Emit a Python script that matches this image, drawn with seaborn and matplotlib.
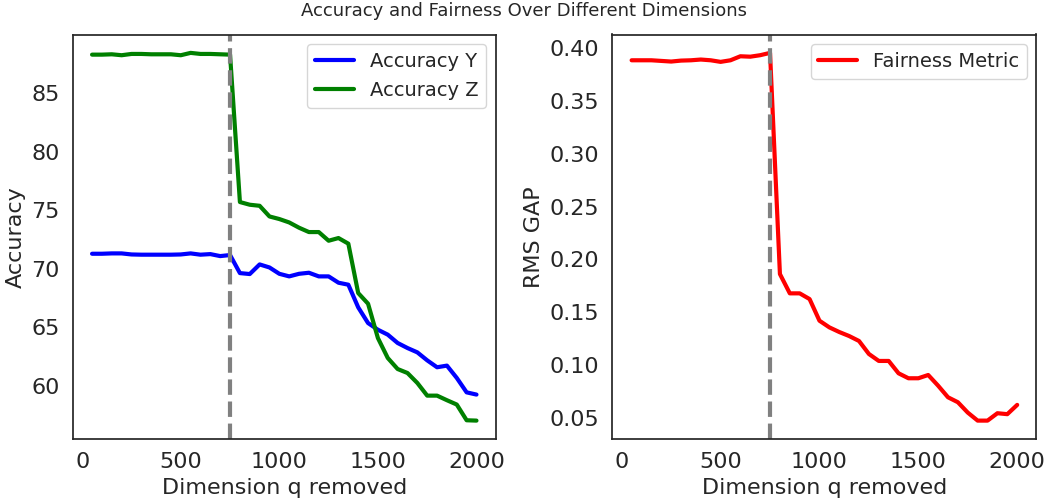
import pandas as pd
import matplotlib
matplotlib.use("Agg")
import matplotlib.pyplot as plt
import seaborn as sns

dims = list(range(50, 2001, 50))

acc_y = [71.28, 71.28, 71.31, 71.31, 71.22, 71.20, 71.20, 71.20, 71.20, 71.22,
         71.31, 71.20, 71.25, 71.08, 71.17, 69.63, 69.55, 70.37, 70.11, 69.57,
         69.35, 69.57, 69.66, 69.35, 69.35, 68.81, 68.64, 66.71, 65.37, 64.80,
         64.38, 63.67, 63.24, 62.87, 62.19, 61.60, 61.74, 60.69, 59.46, 59.27]

acc_z = [88.26, 88.26, 88.29, 88.21, 88.32, 88.32, 88.29, 88.29, 88.29, 88.21,
         88.41, 88.32, 88.32, 88.29, 88.26, 75.69, 75.46, 75.37, 74.46, 74.24,
         73.95, 73.50, 73.13, 73.13, 72.39, 72.62, 72.14, 67.93, 67.02, 64.09,
         62.39, 61.45, 61.11, 60.26, 59.18, 59.18, 58.79, 58.42, 57.08, 57.05]

fairness = [0.3886, 0.3886, 0.3886, 0.3880, 0.3874, 0.3883, 0.3886, 0.3893, 0.3886, 0.3871,
            0.3886, 0.3924, 0.3920, 0.3934, 0.3956, 0.1862, 0.1679, 0.1679, 0.1625, 0.1420,
            0.1357, 0.1313, 0.1275, 0.1228, 0.1105, 0.1039, 0.1039, 0.0922, 0.0875, 0.0875,
            0.0906, 0.0805, 0.0695, 0.0648, 0.0550, 0.0474, 0.0474, 0.0544, 0.0535, 0.0623]

cutoff = 750

df = pd.DataFrame({"dim": dims, "acc_y": acc_y, "acc_z": acc_z, "fair": fairness})

sns.set_theme(style="white")
plt.rcParams['font.family'] = ['DejaVu Sans']

fig = plt.figure(figsize=(10.48, 5), dpi=100)
ax1 = fig.add_axes([0.0695, 0.122, 0.4035, 0.809])
ax2 = fig.add_axes([0.5843, 0.122, 0.4047, 0.809])

# Левый график: точность
sns.lineplot(data=df, x="dim", y="acc_y", ax=ax1, color="blue", linewidth=3, label="Accuracy Y")
sns.lineplot(data=df, x="dim", y="acc_z", ax=ax1, color="green", linewidth=3, label="Accuracy Z")
ax1.axvline(cutoff, color="gray", linestyle="--", linewidth=3)
ax1.set_xlabel("Dimension q removed", fontsize=16)
ax1.set_ylabel("Accuracy", fontsize=16)
ax1.legend(loc="upper right", fontsize=14)

# Правый график: справедливость
sns.lineplot(data=df, x="dim", y="fair", ax=ax2, color="red", linewidth=3, label="Fairness Metric")
ax2.axvline(cutoff, color="gray", linestyle="--", linewidth=3)
ax2.set_xlabel("Dimension q removed", fontsize=16)
ax2.set_ylabel("RMS GAP", fontsize=16)
ax2.legend(loc="upper right", fontsize=14)

for ax in (ax1, ax2):
    ax.tick_params(labelsize=16)
    ax.set_xticks([0, 500, 1000, 1500, 2000])

fig.suptitle("Accuracy and Fairness Over Different Dimensions", fontsize=13, y=0.995)

plt.savefig("out.png", dpi=100)
plt.close()
